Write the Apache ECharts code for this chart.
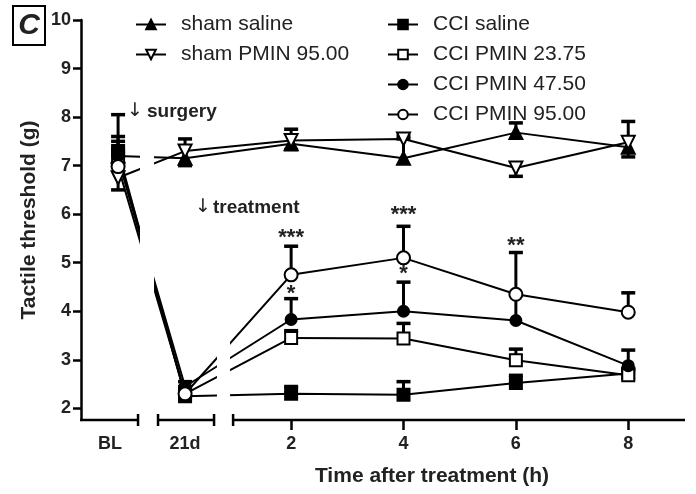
<!DOCTYPE html>
<html><head><meta charset="utf-8">
<script src="https://cdn.jsdelivr.net/npm/echarts@6/dist/echarts.min.js"></script>
<style>html,body{margin:0;padding:0;background:#fff}#c{width:696px;height:494px}</style>
</head><body><div id="c"></div>
<script>
// ---- data ----
const timepoints = ['BL', '21d', '2', '4', '6', '8'];
const hours = [2, 4, 6, 8];
const seriesNames = ['sham saline', 'sham PMIN 95.00', 'CCI saline', 'CCI PMIN 23.75', 'CCI PMIN 47.50', 'CCI PMIN 95.00'];
const shamSaline      = [7.20, 7.15, 7.45, 7.15, 7.68, 7.38];
const shamSalineSem   = [0.30, -0.15, -0.12, 0.40, 0.20, -0.20];
const shamPmin95      = [6.75, 7.30, 7.52, 7.55, 6.95, 7.48];
const shamPmin95Sem   = [-0.25, 0.25, 0.23, 0.06, -0.17, 0.43];
const cciSaline       = [7.30, 2.25, 2.30, 2.28, 2.52, 2.72];
const cciSalineSem    = [0.75, 0.20, 0.15, 0.27, 0.16, 0.10];
const cciPmin2375     = [7.15, 2.30, 3.45, 3.44, 2.99, 2.68];
const cciPmin2375Sem  = [0.20, 0.10, 0.15, 0.31, 0.23, 0.10];
const cciPmin475      = [7.20, 2.45, 3.83, 4.00, 3.81, 2.88];
const cciPmin475Sem   = [0.40, 0.10, 0.43, 0.60, 0.55, 0.32];
const cciPmin95       = [6.98, 2.30, 4.75, 5.10, 4.35, 3.98];
const cciPmin95Sem    = [0.30, 0.10, 0.59, 0.65, 0.86, 0.40];
const yTicks = [2, 3, 4, 5, 6, 7, 8, 9, 10];
// significance marks: [timepoint index, text, value level]
const sigMarks = [[2, '***', 5.52], [2, '*', 4.35], [3, '***', 5.99], [3, '*', 4.76], [4, '**', 5.35]];

// ---- layout (broken x axis mapped onto one value scale) ----
const xMin = -1.74, xMax = 9.01, yMin = 1.76, yMax = 10;
const xPos = [-1.08, 0.112, 2, 4, 6, 8];          // where each timepoint is drawn
const xLabelPos = [-1.223, 0.112, 2, 4, 6, 8];    // where each tick label is centred
const axisSegments = [[-1.74, -0.725], [-0.369, 0.628], [0.967, 9.01]];
const lineGaps = [[-0.69, -0.44, 1.9, 7.8], [0.68, 0.913, 1.9, 5.5]];
const FONT = 'Liberation Sans, Arial, Helvetica, sans-serif';

const groups = [
  { name: seriesNames[0], vals: shamSaline, sem: shamSalineSem, symbol: 'triangle', size: 13, fill: '#000' },
  { name: seriesNames[1], vals: shamPmin95, sem: shamPmin95Sem, symbol: 'path://M0,0L10,0L5,9Z', size: 13, fill: '#fff' },
  { name: seriesNames[2], vals: cciSaline, sem: cciSalineSem, symbol: 'rect', size: 12, fill: '#000' },
  { name: seriesNames[3], vals: cciPmin2375, sem: cciPmin2375Sem, symbol: 'rect', size: 12, fill: '#fff' },
  { name: seriesNames[4], vals: cciPmin475, sem: cciPmin475Sem, symbol: 'circle', size: 11, fill: '#000' },
  { name: seriesNames[5], vals: cciPmin95, sem: cciPmin95Sem, symbol: 'circle', size: 13, fill: '#fff' }
];

const series = [];
groups.forEach(g => {
  series.push({
    name: g.name, type: 'line', animation: false,
    data: g.vals.map((v, i) => [xPos[i], v]),
    symbol: g.symbol, symbolSize: g.size, showSymbol: true, showAllSymbol: true,
    lineStyle: { color: '#000', width: 2 },
    itemStyle: { color: g.fill, borderColor: '#000', borderWidth: 2 },
    emphasis: { disabled: true }, z: 3
  });
});
// error bars
const errData = [];
groups.forEach(g => g.vals.forEach((v, i) => errData.push([xPos[i], v, g.sem[i]])));
series.push({
  type: 'custom', animation: false, silent: true, z: 2,
  encode: { x: 0, y: 1 },
  data: errData,
  renderItem: function (params, api) {
    const x = api.value(0), y = api.value(1), e = api.value(2);
    const p0 = api.coord([x, y]), p1 = api.coord([x, y + e]);
    return { type: 'group', children: [
      { type: 'line', shape: { x1: p0[0], y1: p0[1], x2: p1[0], y2: p1[1] }, style: { stroke: '#000', lineWidth: 3 } },
      { type: 'line', shape: { x1: p1[0] - 7, y1: p1[1], x2: p1[0] + 7, y2: p1[1] }, style: { stroke: '#000', lineWidth: 3.5 } }
    ]};
  }
});
// white gaps where the lines cross the axis breaks
series.push({
  type: 'custom', animation: false, silent: true, z: 5,
  encode: { x: [0, 1], y: [2, 3] },
  data: lineGaps,
  renderItem: function (params, api) {
    const a = api.coord([api.value(0), api.value(2)]);
    const b = api.coord([api.value(1), api.value(3)]);
    return { type: 'rect', shape: { x: a[0], y: b[1], width: b[0] - a[0], height: a[1] - b[1] }, style: { fill: '#fff' } };
  }
});
// broken x axis line segments
series.push({
  type: 'custom', animation: false, silent: true, z: 6,
  encode: { x: [0, 1], y: 2 },
  data: axisSegments.map(s => [s[0], s[1], 2]),
  renderItem: function (params, api) {
    const a = api.coord([api.value(0), yMin]), b = api.coord([api.value(1), yMin]);
    const y = a[1];
    const ch = [{ type: 'line', shape: { x1: a[0] - (params.dataIndex === 0 ? 1 : 0), y1: y, x2: b[0], y2: y }, style: { stroke: '#000', lineWidth: 2.5 } }];
    if (params.dataIndex > 0) ch.push({ type: 'line', shape: { x1: a[0], y1: y - 6, x2: a[0], y2: y + 6 }, style: { stroke: '#000', lineWidth: 2.5 } });
    if (params.dataIndex < axisSegments.length - 1) ch.push({ type: 'line', shape: { x1: b[0], y1: y - 6, x2: b[0], y2: y + 6 }, style: { stroke: '#000', lineWidth: 2.5 } });
    return { type: 'group', children: ch };
  }
});
// significance asterisks
series.push({
  type: 'custom', animation: false, silent: true, z: 7,
  encode: { x: 0, y: 1 },
  data: sigMarks.map(m => [xPos[m[0]], m[2], m[1]]),
  renderItem: function (params, api) {
    const p = api.coord([api.value(0), api.value(1)]);
    return { type: 'text', x: p[0], y: p[1], style: { text: sigMarks[params.dataIndex][1], font: 'bold 22px ' + FONT, fill: '#222', align: 'center', verticalAlign: 'middle' } };
  }
});

const legendText = { fontSize: 21, fontFamily: FONT, color: '#222', lineHeight: 21, padding: [0, 0, 0, 10] };
const option = {
  animation: false,
  backgroundColor: '#fff',
  grid: { left: 81, right: 11, top: 20, bottom: 74, containLabel: false },
  legend: [
    { data: seriesNames.slice(0, 2), left: 130, top: 9, orient: 'vertical', itemWidth: 30, itemHeight: 12, itemGap: 9, selectedMode: false, textStyle: legendText },
    { data: seriesNames.slice(2), left: 382, top: 9, orient: 'vertical', itemWidth: 30, itemHeight: 12, itemGap: 9, selectedMode: false, textStyle: legendText }
  ],
  xAxis: {
    type: 'value', min: xMin, max: xMax,
    axisLine: { show: false, onZero: false },
    splitLine: { show: false },
    axisTick: { show: true, customValues: hours, length: 10, lineStyle: { color: '#000', width: 2.5 } },
    axisLabel: {
      customValues: xLabelPos, margin: 15,
      formatter: v => timepoints[xLabelPos.findIndex(p => Math.abs(p - v) < 1e-6)],
      fontSize: 18, fontWeight: 'bold', color: '#222', fontFamily: FONT
    }
  },
  yAxis: {
    type: 'value', min: yMin, max: yMax,
    name: 'Tactile threshold (g)', nameLocation: 'middle', nameGap: 40, nameRotate: 90,
    nameTextStyle: { fontSize: 21, fontWeight: 'bold', color: '#222', fontFamily: FONT },
    axisLine: { show: true, onZero: false, lineStyle: { color: '#000', width: 2.5 } },
    splitLine: { show: false },
    axisTick: { show: true, customValues: yTicks, length: 8, lineStyle: { color: '#000', width: 2.5 } },
    axisLabel: { customValues: yTicks, margin: 10, fontSize: 18, fontWeight: 'bold', color: '#222', fontFamily: FONT }
  },
  graphic: [
    { type: 'rect', z: 100, shape: { x: 13, y: 6, width: 32, height: 39 }, style: { fill: '#fff', stroke: '#000', lineWidth: 2 } },
    { type: 'text', z: 101, x: 29, y: 26, style: { text: 'C', font: 'italic bold 30px ' + FONT, fill: '#222', align: 'center', verticalAlign: 'middle' } },
    { type: 'text', z: 101, x: 127, y: 111, style: { text: '↓', font: '19px DejaVu Sans, sans-serif', fill: '#222', align: 'left', verticalAlign: 'middle' } },
    { type: 'text', z: 101, x: 147, y: 112, style: { text: 'surgery', font: 'bold 19px ' + FONT, fill: '#222', align: 'left', verticalAlign: 'middle' } },
    { type: 'text', z: 101, x: 195, y: 207, style: { text: '↓', font: '19px DejaVu Sans, sans-serif', fill: '#222', align: 'left', verticalAlign: 'middle' } },
    { type: 'text', z: 101, x: 213, y: 208, style: { text: 'treatment', font: 'bold 19px ' + FONT, fill: '#222', align: 'left', verticalAlign: 'middle' } },
    { type: 'text', z: 101, x: 432, y: 476, style: { text: 'Time after treatment (h)', font: 'bold 21px ' + FONT, fill: '#222', align: 'center', verticalAlign: 'middle' } }
  ],
  series: series
};
const chart = echarts.init(document.getElementById('c'), null, { renderer: 'canvas' });
chart.setOption(option);
</script></body></html>
